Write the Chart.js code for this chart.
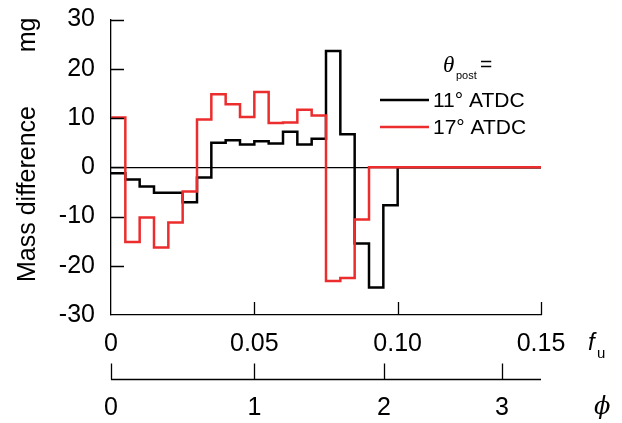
<!DOCTYPE html>
<html>
<head>
<meta charset="utf-8">
<script src="https://cdn.jsdelivr.net/npm/chart.js@4"></script>
<style>
  body { margin: 0; background: #fff; }
  #wrap { width: 622px; height: 423px; position: relative; }
</style>
</head>
<body>
<div id="wrap"><canvas id="massGraph"></canvas></div>
<script>
// bin edges in unburned fuel fraction f_u
var binEdges = [0, 0.005, 0.01, 0.015, 0.02, 0.025, 0.03, 0.035, 0.04, 0.045, 0.05,
                0.055, 0.06, 0.065, 0.07, 0.075, 0.08, 0.085, 0.09, 0.095, 0.10];
// mass difference per bin (mg)
var mass11 = [-1.2, -2.5, -3.9, -5.2, -5.2, -7.1, -2.1, 5.0, 5.5, 4.6,
              5.3, 4.8, 7.2, 4.6, 5.8, 23.6, 6.7, -15.5, -24.4, -7.7];
var mass17 = [10.1, -15.2, -10.2, -16.3, -11.2, -4.9, 9.7, 14.8, 12.8, 10.2,
              15.3, 9.0, 9.1, 11.7, 10.5, -23.1, -22.5, -10.6];
var seriesLabels = ['11\u00b0 ATDC', '17\u00b0 ATDC'];
var fuTicks = [0, 0.05, 0.10, 0.15];
var phiTicks = [0, 1, 2, 3];
var massTicks = [-30, -20, -10, 0, 10, 20, 30];

var FONT = "'Liberation Sans', Arial, sans-serif";
var RED = '#ec2d2d';
var F_ST = 0.05;   // stoichiometric fuel fraction

function phiToFu(phi) {
  var s = F_ST / (1 - F_ST);
  return phi * s / (1 + phi * s);
}

// step points: each bin value runs to the next edge, then zero out to 0.15
function stepPoints(vals) {
  var pts = vals.map(function(v, i) { return {x: binEdges[i], y: v}; });
  pts.push({x: binEdges[vals.length], y: 0});
  pts.push({x: 0.15, y: 0});
  return pts;
}

var axisMarks = {
  id: 'axisMarks',
  afterDraw: function(chart) {
    var ctx = chart.ctx, a = chart.chartArea;
    var sx = chart.scales.x, sx2 = chart.scales.x2, sy = chart.scales.y;
    ctx.save();
    ctx.strokeStyle = '#000';
    ctx.lineWidth = 1.3;
    ctx.beginPath();
    // inward ticks (skip the corner)
    massTicks.forEach(function(v) {
      if (v === massTicks[0]) return;
      var y = Math.round(sy.getPixelForValue(v)) + 0.5;
      ctx.moveTo(a.left, y); ctx.lineTo(a.left + 13, y);
    });
    fuTicks.forEach(function(v) {
      if (v === 0) return;
      var x = Math.round(sx.getPixelForValue(v)) + 0.5;
      ctx.moveTo(x, a.bottom); ctx.lineTo(x, a.bottom - 13);
    });
    // equivalence ratio axis
    var py = Math.round(sx2.top) + 0.5;
    ctx.moveTo(sx2.getPixelForValue(0), py);
    ctx.lineTo(sx2.getPixelForValue(0.15), py);
    phiTicks.forEach(function(p) {
      var x = Math.round(sx2.getPixelForValue(phiToFu(p))) + 0.5;
      ctx.moveTo(x, py); ctx.lineTo(x, py - 16);
    });
    ctx.stroke();

    ctx.fillStyle = '#000';
    // axis names
    ctx.font = 'italic 24px ' + FONT;
    ctx.textBaseline = 'alphabetic';
    ctx.textAlign = 'left';
    ctx.fillText('f', 588, 350);
    ctx.font = '15px ' + FONT;
    ctx.fillText('u', 597, 358);
    ctx.font = "italic 24px 'DejaVu Serif', serif";
    ctx.fillText('\u03d5', 594, 414);

    ctx.save();
    ctx.font = '25px ' + FONT;
    ctx.textAlign = 'center';
    ctx.translate(35, 194);
    ctx.rotate(-Math.PI / 2);
    ctx.fillText('Mass difference', 0, 0);
    ctx.restore();
    ctx.save();
    ctx.font = '25px ' + FONT;
    ctx.textAlign = 'center';
    ctx.translate(35, 35);
    ctx.rotate(-Math.PI / 2);
    ctx.fillText('mg', 0, 0);
    ctx.restore();

    // legend
    ctx.font = "italic 23px 'Liberation Serif', serif";
    ctx.fillText('\u03b8', 443, 72);
    ctx.font = '11px ' + FONT;
    ctx.fillText('post', 456, 79);
    ctx.font = '21px ' + FONT;
    ctx.fillText('=', 480, 71);
    ctx.textBaseline = 'middle';
    chart.data.datasets.forEach(function(ds, i) {
      var y = 100 + i * 27;
      ctx.strokeStyle = ds.borderColor;
      ctx.lineWidth = 2.5;
      ctx.beginPath();
      ctx.moveTo(380, y); ctx.lineTo(429, y);
      ctx.stroke();
      ctx.fillStyle = '#000';
      ctx.fillText(ds.label, 433, y + 1);
    });
    ctx.restore();
  }
};

new Chart(document.getElementById('massGraph'), {
  type: 'line',
  data: {
    datasets: [
      {
        label: seriesLabels[0],
        data: stepPoints(mass11),
        borderColor: '#000',
        borderWidth: 2.5,
        stepped: 'before',
        pointRadius: 0,
        order: 1
      },
      {
        label: seriesLabels[1],
        data: stepPoints(mass17),
        borderColor: RED,
        borderWidth: 2.5,
        stepped: 'before',
        pointRadius: 0,
        order: 0
      }
    ]
  },
  options: {
    responsive: true,
    maintainAspectRatio: false,
    animation: false,
    layout: { padding: { left: 0, right: 81, top: 19.5, bottom: 0 } },
    plugins: { legend: { display: false }, tooltip: { enabled: false } },
    scales: {
      x: {
        type: 'linear',
        position: 'bottom',
        min: 0,
        max: 0.15,
        afterBuildTicks: function(scale) {
          scale.ticks = fuTicks.map(function(v) { return {value: v}; });
        },
        afterFit: function(scale) { scale.height = 64; },
        ticks: {
          autoSkip: false,
          maxRotation: 0,
          padding: 6,
          color: '#000',
          font: { family: FONT, size: 25 },
          callback: function(v) { return v === 0 ? '0' : v.toFixed(2); }
        },
        grid: { display: false },
        border: { display: true, color: '#000', width: 1.3 }
      },
      x2: {
        type: 'linear',
        position: 'bottom',
        min: 0,
        max: 0.15,
        afterBuildTicks: function(scale) {
          scale.ticks = phiTicks.map(function(p) { return {value: phiToFu(p)}; });
        },
        afterFit: function(scale) { scale.height = 44; },
        ticks: {
          autoSkip: false,
          maxRotation: 0,
          padding: 6,
          color: '#000',
          font: { family: FONT, size: 25 },
          callback: function(v, i) { return String(phiTicks[i]); }
        },
        grid: { display: false },
        border: { display: false }
      },
      y: {
        min: -30,
        max: 30,
        afterBuildTicks: function(scale) {
          scale.ticks = massTicks.map(function(v) { return {value: v}; });
        },
        afterFit: function(scale) {
          scale.width = 111;
          scale.paddingTop = 0;
          scale.paddingBottom = 0;
        },
        ticks: {
          padding: 16,
          color: '#000',
          font: { family: FONT, size: 25 },
          callback: function(v) { return String(v); }
        },
        grid: {
          drawTicks: false,
          lineWidth: 1.3,
          color: function(c) { return c.tick && c.tick.value === 0 ? '#000' : 'rgba(0,0,0,0)'; }
        },
        border: { display: true, color: '#000', width: 1.3 }
      }
    }
  },
  plugins: [axisMarks]
});
</script>
</body>
</html>
